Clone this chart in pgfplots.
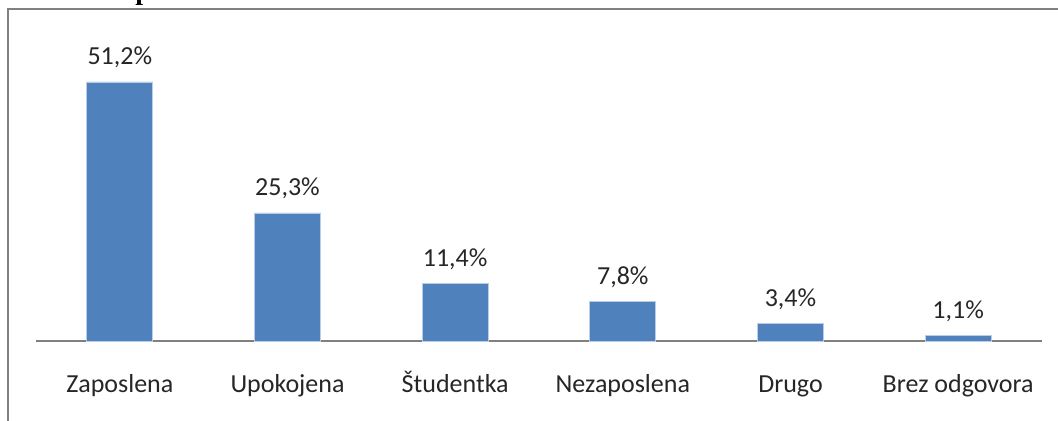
\documentclass[border=0pt]{standalone}
\usepackage{pgfplots}
\pgfplotsset{compat=1.18}
\usepackage{fontspec}
\setmainfont{Carlito}
\newfontfamily\titlefont{Liberation Serif}
\definecolor{barblue}{HTML}{4F81BD}
\definecolor{baredge}{HTML}{B9CDE5}
\definecolor{framegray}{HTML}{808080}
\begin{document}
\begin{tikzpicture}
\useasboundingbox (0,0) rectangle (529pt,210.5pt);
\node[anchor=base west, inner sep=0pt, font=\titlefont\bfseries\fontsize{14}{16}\selectfont] at (2.5pt,210.5pt) {Graf 4: Zaposlitveni status};
\draw[framegray, line width=1pt] (4pt,0pt) -- (4pt,206pt) -- (530pt,206pt);
\begin{axis}[
  at={(18pt,40pt)}, anchor=south west,
  scale only axis,
  width=503pt, height=151.8pt,
  xmin=-0.5, xmax=5.5, ymin=0, ymax=60,
  axis y line=none,
  axis x line*=bottom,
  x axis line style={framegray, line width=1pt, -},
  xtick={0,1,2,3,4,5},
  xticklabels={Zaposlena,Upokojena,Študentka,Nezaposlena,Drugo,Brez odgovora},
  major tick length=0pt,
  xticklabel style={anchor=base, yshift=-26pt, font=\fontsize{13}{15}\selectfont, text=black!85},
  clip=false,
  ybar, bar width=33pt,
  nodes near coords,
  point meta=explicit symbolic,
  every node near coord/.append style={anchor=base, yshift=8.5pt, font=\fontsize{13}{15}\selectfont, text=black!85},
]
\addplot[fill=barblue, draw=baredge, line width=0.4pt] coordinates {
  (0,51.2) [51,2\%]
  (1,25.3) [25,3\%]
  (2,11.4) [11,4\%]
  (3,7.8) [7,8\%]
  (4,3.4) [3,4\%]
  (5,1.1) [1,1\%]
};
\end{axis}
\end{tikzpicture}
\end{document}
